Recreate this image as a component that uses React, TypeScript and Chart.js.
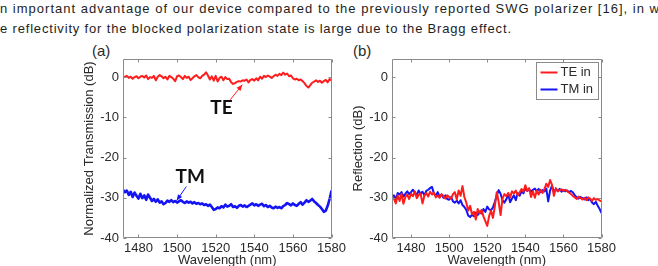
import React, { useEffect, useRef } from "react";
import { Chart, registerables } from "chart.js";

Chart.register(...registerables);

// ---- data -------------------------------------------------------------
// (a) normalized transmission, 1 nm sampling starting at 1472 nm
const WL_A_START = 1472;
const TE_TRANSMISSION = [
  0.2, 0.0, 0.3, -0.2, 0.1, -0.4, 0.0, 0.2, -0.3, 0.1,
  0.3, -0.1, 0.4, -0.5, 0.0, -0.2, 0.3, -0.8, 0.1, 0.5,
  0.2, -0.3, 0.1, -0.6, 0.3, 0.0, -0.4, -1.0, 0.2, 0.4,
  0.0, -0.5, 0.3, -0.2, 0.1, -0.7, -0.3, 0.2, 0.5, 0.0,
  -0.3, 0.3, 0.6, 1.2, 0.4, -0.6, 0.2, -0.9, 0.3, -1.1,
  -0.2, 0.1, -0.8, 0.0, -0.5, -0.4, -1.3, -1.7, -1.5, -1.2,
  -1.0, -1.1, -0.8, -0.9, -0.6, -1.3, -0.7, -0.5, -0.9, -0.3,
  -0.8, 0.1, -0.4, 0.3, 0.0, 0.4, 0.1, -0.2, 0.2, 0.6,
  0.3, 0.8, 0.5, 1.1, 0.6, 0.9, 0.2, 0.4, -0.3, -0.6,
  -0.4, -0.8, -0.6, -1.0, -1.5, -2.2, -2.6, -2.0, -1.4, -1.1,
  -0.8, -1.2, -0.9, -1.4, -1.0, -0.7, -1.3, -0.5, -0.8,
];
const TM_TRANSMISSION = [
  -28.0, -28.6, -28.2, -29.3, -28.5, -29.8, -28.7, -29.5, -30.2, -29.0,
  -30.1, -29.4, -30.5, -29.2, -30.0, -30.8, -30.3, -31.0, -30.4, -31.2,
  -30.9, -31.6, -31.3, -30.7, -31.0, -30.6, -31.1, -30.8, -31.2, -30.9,
  -30.6, -31.0, -31.3, -30.9, -31.2, -31.0, -31.4, -31.1, -31.5, -31.3,
  -31.6, -31.4, -31.8, -31.6, -32.0, -31.7, -32.3, -33.0, -32.8, -32.4,
  -32.6, -32.1, -32.4, -31.7, -32.2, -32.0, -31.6, -32.3, -32.1, -32.5,
  -32.0, -31.8, -32.2, -31.9, -32.3, -32.0, -31.7, -31.4, -31.9, -31.6,
  -32.0, -31.7, -31.5, -32.1, -31.8, -32.3, -32.0, -32.4, -32.6, -32.2,
  -32.5, -32.3, -32.6, -32.1, -31.8, -31.3, -31.6, -31.9, -31.4, -31.8,
  -32.0, -31.5, -31.1, -31.7, -31.2, -30.6, -31.0, -30.7, -30.3, -30.9,
  -31.3, -31.8, -32.2, -32.8, -33.5, -33.2, -32.0, -30.3, -28.2,
];

// (b) reflection, 1 nm sampling starting at 1470 nm
const WL_B_START = 1470;
const TE_REFLECTION = [
  -29.6, -30.2, -31.4, -29.4, -30.8, -29.0, -31.5, -29.8, -29.2, -30.3,
  -29.0, -29.6, -28.4, -30.1, -29.3, -28.9, -31.4, -29.5, -28.8, -29.7,
  -28.5, -29.2, -28.7, -29.9, -29.4, -30.0, -29.1, -29.6, -30.2, -29.4,
  -29.8, -30.3, -29.1, -28.6, -30.4, -28.2, -29.5, -27.1, -29.8, -31.2,
  -33.2, -32.0, -34.1, -33.5, -35.4, -32.8, -33.9, -33.0, -34.6, -35.8,
  -37.0, -34.5, -33.2, -35.0, -32.1, -28.6, -31.0, -34.3, -30.2, -29.1,
  -29.6, -28.8, -29.9, -28.4, -28.9, -28.2, -29.4, -28.7, -27.8, -28.5,
  -26.9, -28.3, -27.6, -29.8, -28.4, -30.0, -28.2, -29.2, -28.0, -28.8,
  -27.9, -26.5, -27.3, -25.6, -26.8, -29.5, -27.6, -28.4, -28.1, -27.9,
  -28.3, -28.0, -28.4, -28.7, -29.1, -29.6, -29.9, -30.3, -29.7, -30.1,
  -30.4, -30.0, -30.6, -29.9, -30.2, -30.8, -30.1, -30.5, -30.3, -30.7, -30.9,
];
const TM_REFLECTION = [
  -30.1, -29.4, -30.3, -28.8, -29.2, -28.6, -29.7, -29.0, -28.4, -29.1,
  -28.6, -28.0, -28.7, -29.3, -28.2, -29.0, -28.5, -29.4, -28.3, -28.0,
  -27.6, -27.3, -28.9, -29.5, -28.6, -29.8, -29.2, -30.0, -29.4, -30.3,
  -30.5, -29.8, -30.9, -31.2, -30.7, -31.4, -30.6, -31.8, -32.3, -33.0,
  -34.4, -34.8, -34.2, -34.6, -33.7, -34.3, -33.4, -33.9, -32.8, -33.5,
  -32.2, -32.9, -33.1, -32.4, -31.0, -29.4, -28.1, -29.0, -30.6, -31.2,
  -30.4, -29.0, -31.1, -30.2, -29.4, -30.6, -28.8, -29.5, -28.4, -28.9,
  -27.6, -28.3, -27.9, -28.5, -28.0, -27.7, -28.4, -27.8, -28.6, -28.1,
  -28.4, -27.7, -30.9, -28.2, -27.0, -28.6, -27.9, -28.3, -27.8, -28.5,
  -28.1, -28.4, -28.2, -28.6, -28.3, -28.7, -29.4, -29.9, -30.2, -29.8,
  -30.1, -30.4, -29.9, -30.6, -30.3, -31.2, -31.6, -31.0, -32.0, -32.8, -33.8,
];

const X_TICKS = [1480, 1500, 1520, 1540, 1560, 1580];
const Y_TICKS = [-40, -30, -20, -10, 0];
const X_MAX = 1580;
const Y_MIN = -40;
const Y_MAX = 4.5;

const PARAGRAPH_LINE_1 =
  "n important advantage of our device compared to the previously reported SWG polarizer [16], in w";
const PARAGRAPH_LINE_2 =
  "e reflectivity for the blocked polarization state is large due to the Bragg effect.";

// ---- styling ----------------------------------------------------------
const RED = "#ff1c1c";
const BLUE = "#1414f5";
const FRAME = "#8a8a8a";
const TEXT = "#2a2a2a";
const FONT = "'Liberation Sans', Arial, Helvetica, sans-serif";
const CANVAS_H = 228;

type Note = { text: string; x: number; y: number; fromX: number; fromY: number; toX: number; toY: number; color: string };

const toPoints = (start: number, values: number[]) => values.map((v, i) => ({ x: start + i, y: v }));

// box with inward tick marks on all four sides
const framePlugin = {
  id: "frame",
  afterDraw(chart: any) {
    const { ctx, chartArea: a, scales } = chart;
    const L = Math.round(a.left) + 0.5;
    const R = Math.round(a.right) - 0.5;
    const T = Math.round(a.top) + 0.5;
    const B = Math.round(a.bottom) - 0.5;
    ctx.save();
    ctx.strokeStyle = FRAME;
    ctx.lineWidth = 1;
    ctx.beginPath();
    ctx.rect(L, T, R - L, B - T);
    const len = 3;
    scales.x.ticks.forEach((t: any) => {
      const px = Math.round(scales.x.getPixelForValue(t.value)) + 0.5;
      ctx.moveTo(px, B);
      ctx.lineTo(px, B - len);
      ctx.moveTo(px, T);
      ctx.lineTo(px, T + len);
    });
    scales.y.ticks.forEach((t: any) => {
      const py = Math.round(scales.y.getPixelForValue(t.value)) + 0.5;
      ctx.moveTo(L, py);
      ctx.lineTo(L + len, py);
      ctx.moveTo(R, py);
      ctx.lineTo(R - len, py);
    });
    ctx.stroke();
    ctx.restore();
  },
};

// text callouts with arrows, placed in data coordinates
const notesPlugin = {
  id: "notes",
  afterDatasetsDraw(chart: any, _args: any, opts: any) {
    const notes: Note[] = opts?.items || [];
    if (!notes.length) return;
    const { ctx, scales } = chart;
    const X = (v: number) => scales.x.getPixelForValue(v);
    const Y = (v: number) => scales.y.getPixelForValue(v);
    ctx.save();
    notes.forEach((n) => {
      const x0 = X(n.fromX), y0 = Y(n.fromY), x1 = X(n.toX), y1 = Y(n.toY);
      ctx.strokeStyle = n.color;
      ctx.fillStyle = n.color;
      ctx.lineWidth = 1;
      ctx.beginPath();
      ctx.moveTo(x0, y0);
      ctx.lineTo(x1, y1);
      ctx.stroke();
      const ang = Math.atan2(y1 - y0, x1 - x0);
      const h = 6, w = 2.5;
      ctx.beginPath();
      ctx.moveTo(x1, y1);
      ctx.lineTo(x1 - h * Math.cos(ang) + w * Math.sin(ang), y1 - h * Math.sin(ang) - w * Math.cos(ang));
      ctx.lineTo(x1 - h * Math.cos(ang) - w * Math.sin(ang), y1 - h * Math.sin(ang) + w * Math.cos(ang));
      ctx.closePath();
      ctx.fill();
      ctx.fillStyle = "#111";
      ctx.font = "bold 19px Lato, 'Open Sans', sans-serif";
      ctx.textAlign = "center";
      ctx.textBaseline = "middle";
      ctx.fillText(n.text, X(n.x), Y(n.y));
    });
    ctx.restore();
  },
};

// boxed legend in the upper-right corner of the plot
const boxLegendPlugin = {
  id: "boxLegend",
  afterDraw(chart: any, _args: any, opts: any) {
    if (!opts?.show) return;
    const { ctx, chartArea: a } = chart;
    const sets = chart.data.datasets;
    const w = 62, rowH = 17, h = rowH * sets.length + 3;
    const right = Math.round(a.right) - 3.5;
    const top = Math.round(a.top) + 3.5;
    const left = right - w;
    ctx.save();
    ctx.fillStyle = "#fff";
    ctx.fillRect(left, top, w, h);
    ctx.strokeStyle = FRAME;
    ctx.lineWidth = 1;
    ctx.strokeRect(left, top, w, h);
    ctx.font = `13px ${FONT}`;
    ctx.textBaseline = "middle";
    ctx.textAlign = "left";
    sets.forEach((ds: any, i: number) => {
      const cy = top + 10 + i * rowH;
      ctx.strokeStyle = ds.borderColor;
      ctx.lineWidth = 2;
      ctx.beginPath();
      ctx.moveTo(left + 4, cy);
      ctx.lineTo(left + 21, cy);
      ctx.stroke();
      ctx.fillStyle = TEXT;
      ctx.fillText(ds.label, left + 24, cy);
    });
    ctx.restore();
  },
};

type PanelProps = {
  left: number;
  width: number;
  xMin: number;
  yTitle: string;
  datasets: { label: string; data: number[]; start: number; color: string; width: number }[];
  notes?: Note[];
  legend?: boolean;
};

function Panel({ left, width, xMin, yTitle, datasets, notes = [], legend = false }: PanelProps) {
  const ref = useRef<HTMLCanvasElement | null>(null);
  useEffect(() => {
    if (!ref.current) return;
    const tickFont = { family: FONT, size: 13 };
    const chart = new Chart(ref.current, {
      type: "line",
      data: {
        datasets: datasets.map((d) => ({
          label: d.label,
          data: toPoints(d.start, d.data),
          borderColor: d.color,
          backgroundColor: d.color,
          borderWidth: d.width,
          pointRadius: 0,
          tension: 0,
          fill: false,
          borderJoinStyle: "round",
        })),
      },
      options: {
        animation: false,
        responsive: false,
        maintainAspectRatio: false,
        events: [],
        layout: { padding: { left: 0, top: 19, right: width - 257, bottom: 0 } },
        plugins: {
          legend: { display: false },
          tooltip: { enabled: false },
          notes: { items: notes },
          boxLegend: { show: legend },
        } as any,
        scales: {
          x: {
            type: "linear",
            min: xMin,
            max: X_MAX,
            afterBuildTicks: (s: any) => {
              s.ticks = X_TICKS.map((v) => ({ value: v }));
            },
            afterFit: (s: any) => {
              s.height = CANVAS_H - 198;
            },
            grid: { display: false, drawTicks: false },
            border: { display: false },
            ticks: {
              padding: 3,
              color: TEXT,
              font: tickFont,
              maxRotation: 0,
              autoSkip: false,
              callback: (v: any) => String(v),
            },
            title: { display: true, text: "Wavelength (nm)", color: TEXT, font: tickFont, padding: 0 },
          },
          y: {
            type: "linear",
            min: Y_MIN,
            max: Y_MAX,
            afterBuildTicks: (s: any) => {
              s.ticks = Y_TICKS.map((v) => ({ value: v }));
            },
            afterFit: (s: any) => {
              s.width = 43;
            },
            grid: { display: false, drawTicks: false },
            border: { display: false },
            ticks: { padding: 4, color: TEXT, font: tickFont, callback: (v: any) => String(v) },
            title: { display: true, text: yTitle, color: TEXT, font: tickFont, padding: { top: 2, bottom: 0 } },
          },
        },
      },
      plugins: [framePlugin, notesPlugin, boxLegendPlugin],
    } as any);
    return () => chart.destroy();
  }, []);
  return (
    <canvas
      ref={ref}
      width={width}
      height={CANVAS_H}
      style={{ position: "absolute", left, top: 40, width, height: CANVAS_H }}
    />
  );
}

const TRANSMISSION_NOTES: Note[] = [
  { text: "TE", x: 1523, y: -7.6, fromX: 1527.6, fromY: -5.6, toX: 1533.8, toY: -1.9, color: RED },
  { text: "TM", x: 1506.8, y: -24.7, fromX: 1504.8, fromY: -27.2, toX: 1499.8, toY: -30.7, color: BLUE },
];

export default function App() {
  return (
    <div
      style={{
        position: "fixed",
        left: 0,
        top: 0,
        width: 658,
        height: 266,
        overflow: "hidden",
        background: "#fff",
      }}
    >
      <svg width={658} height={40} style={{ position: "absolute", left: 0, top: 0 }}>
        <text x={0} y={12.7} textLength={659} lengthAdjust="spacing" fontFamily={FONT} fontSize={13} fill="#1e1e1e">
          {PARAGRAPH_LINE_1}
        </text>
        <text x={0} y={32.7} textLength={511} lengthAdjust="spacing" fontFamily={FONT} fontSize={13} fill="#1e1e1e">
          {PARAGRAPH_LINE_2}
        </text>
      </svg>
      <div style={{ position: "absolute", left: 92, top: 42, font: `15px ${FONT}`, color: TEXT }}>(a)</div>
      <div style={{ position: "absolute", left: 353, top: 42, font: `15px ${FONT}`, color: TEXT }}>(b)</div>
      <Panel
        left={80}
        width={269}
        xMin={WL_A_START}
        yTitle="Normalized Transmission (dB)"
        datasets={[
          { label: "TE", data: TE_TRANSMISSION, start: WL_A_START, color: RED, width: 2 },
          { label: "TM", data: TM_TRANSMISSION, start: WL_A_START, color: BLUE, width: 2.6 },
        ]}
        notes={TRANSMISSION_NOTES}
      />
      <Panel
        left={349}
        width={270}
        xMin={WL_B_START}
        yTitle="Reflection (dB)"
        legend
        datasets={[
          { label: "TE in", data: TE_REFLECTION, start: WL_B_START, color: RED, width: 2 },
          { label: "TM in", data: TM_REFLECTION, start: WL_B_START, color: BLUE, width: 2 },
        ]}
      />
    </div>
  );
}
